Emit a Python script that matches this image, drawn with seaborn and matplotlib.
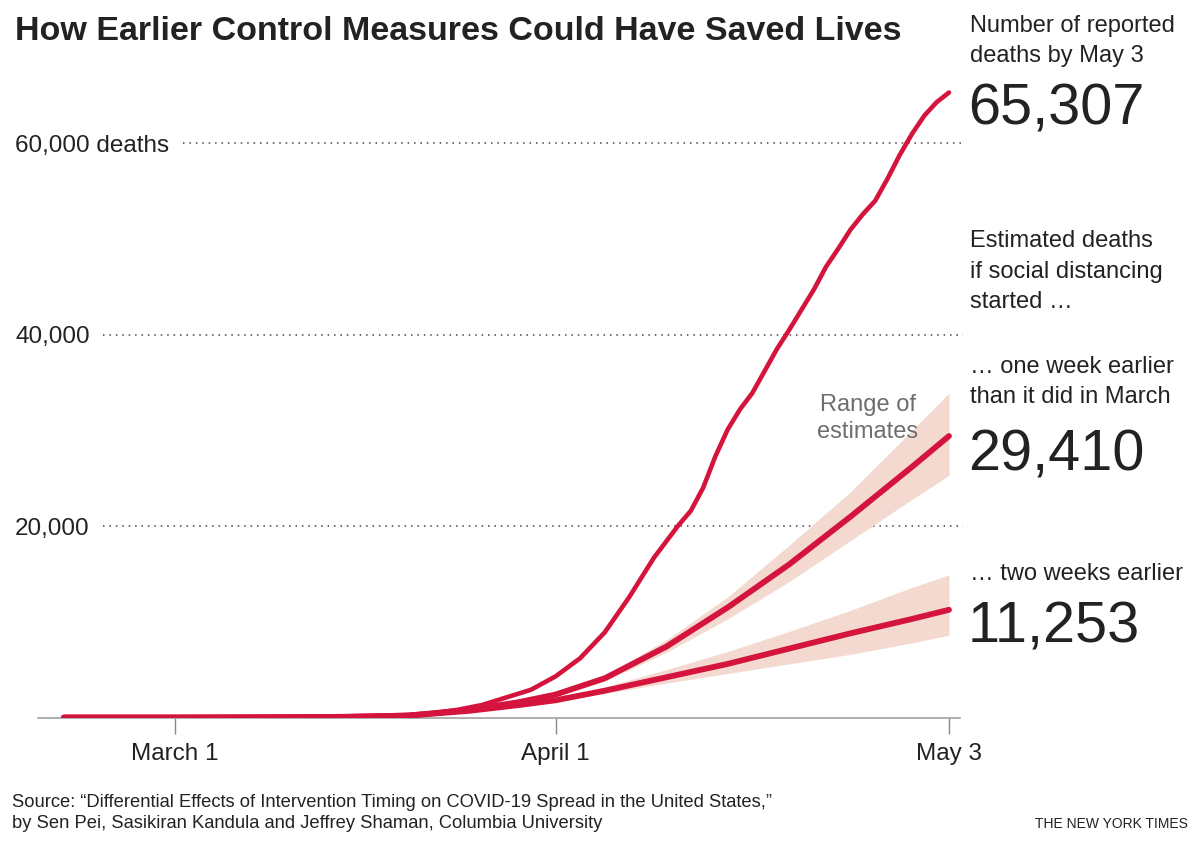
import numpy as np
import pandas as pd
import matplotlib
matplotlib.use("Agg")
import matplotlib.pyplot as plt
import matplotlib.transforms as mtransforms
import seaborn as sns

# reported deaths
rep_dates = ['2020-02-21', '2020-03-01', '2020-03-10', '2020-03-15', '2020-03-18',
             '2020-03-20', '2020-03-22', '2020-03-24', '2020-03-26', '2020-03-28',
             '2020-03-30', '2020-04-01', '2020-04-03', '2020-04-05', '2020-04-07',
             '2020-04-09', '2020-04-11', '2020-04-12', '2020-04-13', '2020-04-14',
             '2020-04-15', '2020-04-16', '2020-04-17', '2020-04-18', '2020-04-19',
             '2020-04-20', '2020-04-21', '2020-04-22', '2020-04-23', '2020-04-24',
             '2020-04-25', '2020-04-26', '2020-04-27', '2020-04-28', '2020-04-29',
             '2020-04-30', '2020-05-01', '2020-05-02', '2020-05-03']
rep_deaths = [0, 0, 30, 70, 150, 250, 450, 800, 1300, 2100, 2900, 4300, 6200, 8900,
              12600, 16700, 20100, 21600, 24000, 27300, 30100, 32200, 33900, 36200,
              38500, 40500, 42600, 44700, 47100, 49000, 51000, 52600, 54000, 56300,
              58800, 61000, 62900, 64300, 65307]

# model estimates
est_dates = ['2020-02-21', '2020-03-01', '2020-03-10', '2020-03-15', '2020-03-20',
             '2020-03-25', '2020-03-29', '2020-04-01', '2020-04-05', '2020-04-10',
             '2020-04-15', '2020-04-20', '2020-04-25', '2020-04-30', '2020-05-03']
week1_mid = [0, 0, 30, 70, 200, 800, 1600, 2400, 4100, 7400, 11500, 16000, 21000, 26200, 29410]
week1_lo = [0, 0, 30, 70, 200, 780, 1550, 2300, 3800, 6800, 10300, 14200, 18500, 22800, 25300]
week1_hi = [0, 0, 30, 70, 200, 820, 1650, 2500, 4400, 8100, 12600, 18000, 23600, 30000, 33900]
week2_mid = [0, 0, 30, 70, 200, 700, 1300, 1800, 2800, 4200, 5600, 7200, 8800, 10300, 11253]
week2_lo = [0, 0, 30, 70, 200, 690, 1250, 1700, 2500, 3600, 4600, 5600, 6600, 7800, 8600]
week2_hi = [0, 0, 30, 70, 200, 720, 1350, 1900, 3200, 5000, 6900, 9000, 11200, 13600, 14900]

grid_vals = [20000, 40000, 60000]
grid_labels = ['20,000', '40,000', '60,000 deaths']
tick_dates = ['2020-03-01', '2020-04-01', '2020-05-03']
tick_labels = ['March 1', 'April 1', 'May 3']

RED = '#d4143c'
BAND = '#f4d9d1'
INK = '#222222'

sns.set_theme(style='white')
plt.rcParams['font.family'] = ['Liberation Sans', 'DejaVu Sans']

rep = pd.DataFrame({'date': pd.to_datetime(rep_dates), 'deaths': rep_deaths})
est = pd.DataFrame({'date': pd.to_datetime(est_dates),
                    'w1': week1_mid, 'w1lo': week1_lo, 'w1hi': week1_hi,
                    'w2': week2_mid, 'w2lo': week2_lo, 'w2hi': week2_hi})

W, H = 1200, 842
fig = plt.figure(figsize=(12, 8.42), dpi=100)
ax = fig.add_axes([38 / W, 1 - 717.5 / H, 922 / W, (717.5 - 60) / H])

ax.fill_between(est['date'], est['w1lo'], est['w1hi'], color=BAND, lw=0, zorder=1)
ax.fill_between(est['date'], est['w2lo'], est['w2hi'], color=BAND, lw=0, zorder=1)

sns.lineplot(data=est, x='date', y='w2', ax=ax, color=RED, lw=4.2,
             solid_capstyle='round', zorder=3)
sns.lineplot(data=est, x='date', y='w1', ax=ax, color=RED, lw=4.2,
             solid_capstyle='round', zorder=3)
sns.lineplot(data=rep, x='date', y='deaths', ax=ax, color=RED, lw=3.3,
             solid_capstyle='round', zorder=4)

ax.set_xlim(pd.Timestamp('2020-02-18 21:30'), pd.Timestamp('2020-05-03 21:30'))
ax.set_ylim(0, (717.5 - 60) / 9.57 * 1000)

# dotted gridlines and labels
trans = mtransforms.blended_transform_factory(ax.transAxes, ax.transData)
lab_trans = mtransforms.offset_copy(trans, fig=fig, y=-8.5, units='dots')
starts = [0.07, 0.07, 0.157]
for v, lab, s in zip(grid_vals, grid_labels, starts):
    ax.axhline(v, xmin=s, xmax=1.003, color='#444444', lw=1.1,
               ls=(0, (1, 3.2)), zorder=0, clip_on=False)
    ax.text(-0.0249, v, lab, transform=lab_trans, ha='left', va='baseline',
            fontsize=17.5, color=INK, clip_on=False)

ax.set_yticks([])
ax.set_xticks(pd.to_datetime(tick_dates))
ax.set_xticklabels(tick_labels)
ax.tick_params(axis='x', length=11.5, width=1, color='#888888', labelsize=17.5,
               labelcolor=INK, pad=7, bottom=True)
for side in ['top', 'right', 'left']:
    ax.spines[side].set_visible(False)
ax.spines['bottom'].set_color('#999999')
ax.spines['bottom'].set_linewidth(1.1)
ax.set_xlabel('')
ax.set_ylabel('')

ax.text(pd.Timestamp('2020-04-26 10:00'), 29200, 'Range of\nestimates', ha='center',
        va='baseline', fontsize=17, color='#6e6e6e', linespacing=1.3)

# title and right-hand annotations
def ftext(x, y, s, **kw):
    fig.text(x / W, 1 - y / H, s, ha='left', va='baseline', color=INK, **kw)

ftext(15, 40, 'How Earlier Control Measures Could Have Saved Lives',
      fontsize=24.5, fontweight='bold')

ftext(970, 32, 'Number of reported', fontsize=17)
ftext(970, 62, 'deaths by May 3', fontsize=17)
ftext(968, 125, '65,307', fontsize=41.5)
ftext(970, 247, 'Estimated deaths', fontsize=17)
ftext(970, 278, 'if social distancing', fontsize=17)
ftext(970, 308, 'started …', fontsize=17)
ftext(970, 373, '… one week earlier', fontsize=17)
ftext(970, 403, 'than it did in March', fontsize=17)
ftext(968, 470, '29,410', fontsize=41.5)
ftext(970, 580, '… two weeks earlier', fontsize=17)
ftext(968, 643, '11,253', fontsize=41.5)

ftext(12, 807, 'Source: \u201cDifferential Effects of Intervention Timing on COVID-19 '
      'Spread in the United States,\u201d', fontsize=13.2)
ftext(12, 828, 'by Sen Pei, Sasikiran Kandula and Jeffrey Shaman, Columbia University',
      fontsize=13.2)
fig.text(1188 / W, 1 - 828 / H, 'THE NEW YORK TIMES', ha='right', va='baseline',
         fontsize=10, color=INK)

fig.savefig('out.png', dpi=100)
